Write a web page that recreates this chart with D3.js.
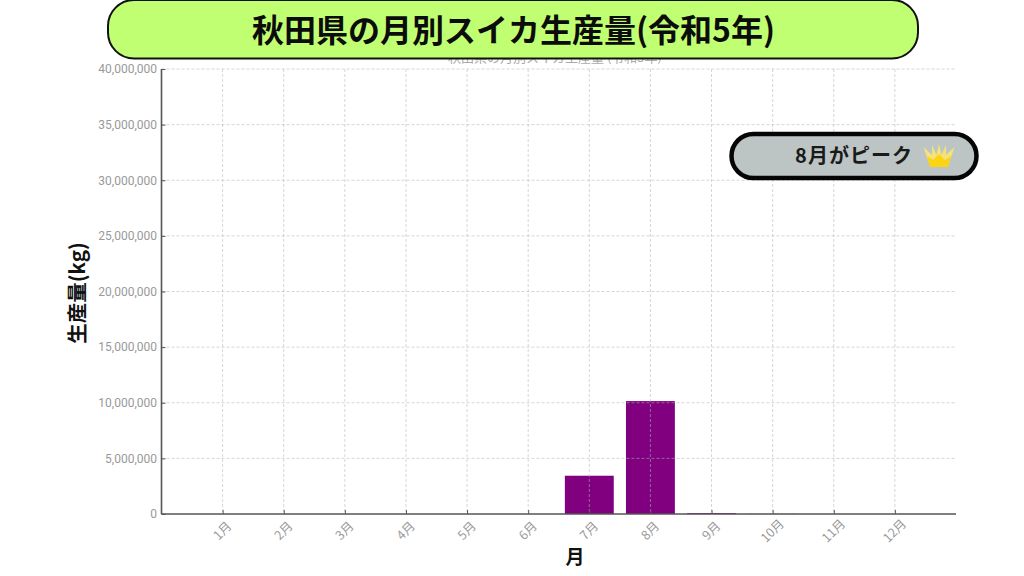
<!DOCTYPE html>
<html lang="ja"><head><meta charset="utf-8">
<script src="https://cdn.jsdelivr.net/npm/d3@7/dist/d3.min.js"></script>
<style>html,body{margin:0;padding:0;background:#fff}svg{display:block}text{font-family:"Noto Sans CJK JP","Noto Sans",sans-serif}</style>
</head><body><svg id="c" width="1024" height="576"></svg>
<script>
const months = ["1月","2月","3月","4月","5月","6月","7月","8月","9月","10月","11月","12月"];
const production = [0,0,0,0,0,0,3440000,10150000,80000,10000,0,0];
const yTicks = [0,5000000,10000000,15000000,20000000,25000000,30000000,35000000,40000000];
const titleText = "秋田県の月別スイカ生産量(令和5年)";
const innerTitleText = "秋田県の月別スイカ生産量 (令和5年)";
const xLabel = "月", yLabel = "生産量(kg)", peakText = "8月がピーク";

const svg = d3.select("#c");
const L=161.5,R=956,T=69,B=514;
const x = d3.scaleLinear().domain([0,13]).range([L,R]);
const y = d3.scaleLinear().domain([0,40000000]).range([B,T]);
const step = x(1)-x(0), barW = step*0.8;

// inner chart title, nearly covered by the banner
svg.append("text").attr("x",555).attr("y",61.5).attr("text-anchor","middle")
  .attr("font-size",13).attr("fill","#aaa").text(innerTitleText);

// bars
svg.append("g").selectAll("rect").data(production).join("rect")
  .attr("x",(d,i)=>x(i+1)-barW/2).attr("width",barW)
  .attr("y",d=>y(d)).attr("height",d=>B-y(d)).attr("fill","#800080");

// grid
const grid = svg.append("g").attr("stroke","#b4b4b4").attr("stroke-opacity",0.55).attr("stroke-width",1).attr("stroke-dasharray","3 2");
grid.selectAll("line.h").data(yTicks.slice(1)).join("line").attr("class","h")
  .attr("x1",L).attr("x2",R).attr("y1",d=>y(d)).attr("y2",d=>y(d));
grid.selectAll("line.v").data(months).join("line").attr("class","v")
  .attr("x1",(d,i)=>x(i+1)).attr("x2",(d,i)=>x(i+1)).attr("y1",T).attr("y2",B);

// axes
const yAxis = d3.axisLeft(y).tickValues(yTicks).tickFormat(d3.format(",")).tickSize(-4).tickPadding(4.5);
const gy = svg.append("g").attr("transform",`translate(${L},0)`).call(yAxis);
gy.selectAll("text").attr("font-size",12).attr("fill","#999").style("font-family","Roboto,sans-serif").style("font-weight",400);
gy.selectAll("line").attr("stroke","#555");
gy.select(".domain").attr("stroke","#555").attr("stroke-width",1.6).attr("d",`M0,${T}V${B}`);

const xAxis = d3.axisBottom(x).tickValues(d3.range(1,13)).tickFormat(d=>months[d-1]).tickSize(-4);
const gx = svg.append("g").attr("transform",`translate(0,${B})`).call(xAxis);
gx.selectAll("line").attr("stroke","#555");
gx.select(".domain").attr("stroke","#555").attr("stroke-width",1.6).attr("d",`M${L},0H${R}`);
gx.selectAll("text").attr("font-size",12.5).attr("fill","#9a9a9a")
  .attr("text-anchor","middle").attr("dy",0).attr("y",0).attr("dominant-baseline","central")
  .attr("transform","translate(-1.5,16) rotate(-45)");

// axis titles
svg.append("text").attr("x",575).attr("y",564).attr("text-anchor","middle")
  .attr("font-size",19).attr("font-weight",700).attr("fill","#111").text(xLabel);
svg.append("text").attr("transform","translate(85,293) rotate(-90)").attr("text-anchor","middle")
  .attr("font-size",20.5).attr("font-weight",700).attr("fill","#111").text(yLabel);

// banner
svg.append("rect").attr("x",108).attr("y",0).attr("width",810).attr("height",58.5).attr("rx",26)
  .attr("fill","#c1ff72").attr("stroke","#111").attr("stroke-width",2);
svg.append("text").attr("x",513.5).attr("y",42).attr("text-anchor","middle")
  .attr("font-size",32).attr("font-weight",700).attr("fill","#0c0c0c").text(titleText);

// peak callout
svg.append("rect").attr("x",731.5).attr("y",134).attr("width",245).attr("height",44).attr("rx",22)
  .attr("fill","#bcc4c4").attr("stroke","#050505").attr("stroke-width",4.5);
svg.append("text").attr("x",854).attr("y",163).attr("text-anchor","middle").style("letter-spacing","1px")
  .attr("font-size",20).attr("font-weight",700).attr("fill","#1a1a1a").text(peakText);
// crown
const crown = svg.append("g").attr("transform","translate(939,156)");
crown.append("path")
  .attr("d","M-9,10 L-15.5,-9 L-7,-1 L-7,-11 L-2.5,-1 L0,-12 L2.5,-1 L7,-11 L7,-1 L15.5,-9 L9,10 Z")
  .attr("fill","#f6e27a");
crown.append("path")
  .attr("d","M-9,11 L-12,0 L-6,4 L0,-2 L6,4 L12,0 L9,11 Z")
  .attr("fill","#fbd412");
</script></body></html>
